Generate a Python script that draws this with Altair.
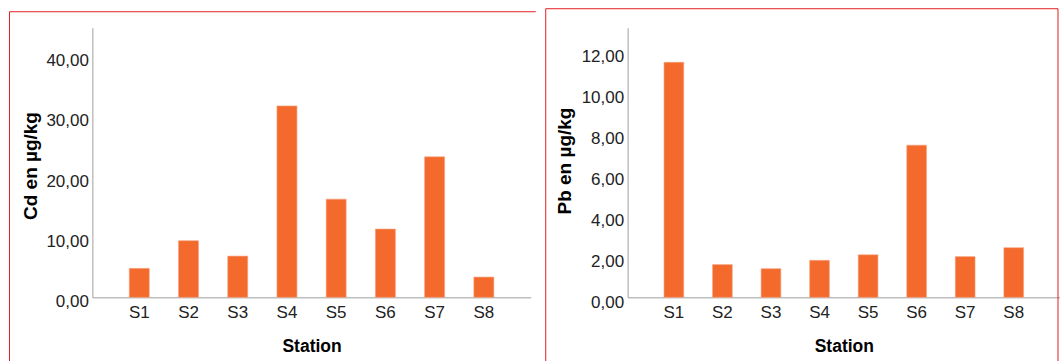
import altair as alt
import pandas as pd

stations = ["S1", "S2", "S3", "S4", "S5", "S6", "S7", "S8"]
cd_values = [4.82, 9.42, 6.86, 31.84, 16.33, 11.35, 23.37, 3.37]
pb_values = [11.49, 1.60, 1.40, 1.81, 2.08, 7.44, 1.99, 2.43]
cd_ticks = [0, 10, 20, 30, 40]
pb_ticks = [0, 2, 4, 6, 8, 10, 12]

FONT = "Liberation Sans"
BAR = "#F36A2C"
FRAME = "#E31E1E"
AXIS = "#a0a0a0"

label_expr = "replace(format(datum.value, '.2f'), '.', ',')"


def panel(values, ticks, ymax, ytitle, width, height, title_x, title_y, label_off,
          fl, ft, fr):
    df = pd.DataFrame({"station": stations, "value": values})
    bars = alt.Chart(df).mark_bar(color=BAR, stroke="#F7A07C", strokeWidth=0.6).encode(
        x=alt.X(
            "station:N",
            sort=stations,
            scale=alt.Scale(paddingInner=0.594, paddingOuter=0.75),
            axis=alt.Axis(
                title="Station",
                labelAngle=0,
                labelFont=FONT,
                labelFontSize=17,
                labelColor="#222222",
                labelBaseline="middle",
                labelPadding=15.5,
                ticks=False,
                tickSize=0,
                domainColor=AXIS,
                titleFont=FONT,
                titleFontSize=17.5,
                titleFontWeight="bold",
                titleColor="#000000",
                titleBaseline="middle",
                titleY=49,
            ),
        ),
        y=alt.Y(
            "value:Q",
            scale=alt.Scale(domain=[0, ymax], nice=False, zero=True),
            axis=alt.Axis(
                title=ytitle,
                values=ticks,
                labelExpr=label_expr,
                grid=False,
                ticks=False,
                tickSize=0,
                domainColor=AXIS,
                labelFont=FONT,
                labelFontSize=17,
                labelColor="#222222",
                labelPadding=4,
                labelOffset=label_off,
                titleFont=FONT,
                titleFontSize=19,
                titleFontWeight="bold",
                titleColor="#000000",
                titleAngle=270,
                titleAlign="center",
                titleBaseline="middle",
                titleX=title_x,
                titleY=title_y,
            ),
        ),
    )
    one = alt.Data(values=[{"k": 1}])
    left = alt.Chart(one).mark_rule(color=FRAME, strokeWidth=1).encode(
        x=alt.value(fl), y=alt.value(ft), y2=alt.value(334)
    )
    top = alt.Chart(one).mark_rule(color=FRAME, strokeWidth=1).encode(
        x=alt.value(fl), x2=alt.value(fr), y=alt.value(ft)
    )
    layers = [bars, left, top]
    if fr < width:
        right = alt.Chart(one).mark_rule(color=FRAME, strokeWidth=1).encode(
            x=alt.value(fr), y=alt.value(ft), y2=alt.value(334)
        )
        layers.append(right)
    return alt.layer(*layers).properties(width=width, height=height)


left_panel = panel(cd_values, cd_ticks, 270 / 6.02, "Cd en µg/kg", 439, 270,
                   -62, 138, 4, -83, -16, 444)
right_panel = panel(pb_values, pb_ticks, 270 / 20.48, "Pb en µg/kg", 433, 270,
                    -63.5, 133, 5, -82, -19, 431)

chart = alt.hconcat(left_panel, right_panel, spacing=97, bounds="flush").properties(
    padding={"left": 8.5, "top": 7.5, "right": 0, "bottom": 0},
    background="white",
).configure_view(stroke=None)

chart.save("out.html", embed_options={"renderer": "svg", "actions": False})
